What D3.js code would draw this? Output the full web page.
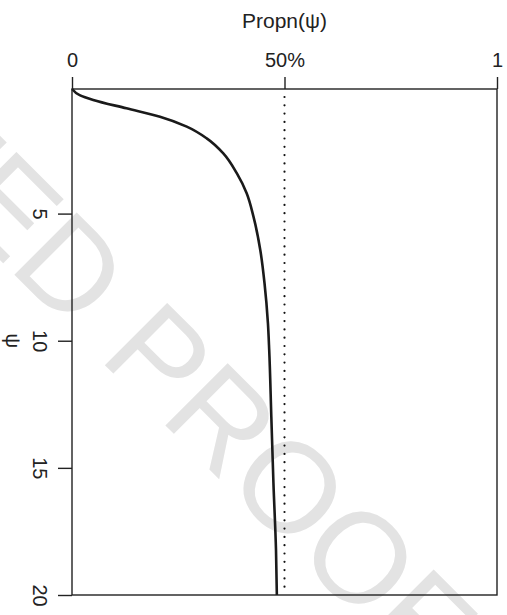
<!DOCTYPE html>
<html>
<head>
<meta charset="utf-8">
<script src="https://cdn.jsdelivr.net/npm/d3@7"></script>
<style>
  html, body { margin: 0; padding: 0; background: #fff; }
  svg { display: block; }
  text { font-family: "Liberation Sans", Arial, Helvetica, sans-serif; }
</style>
</head>
<body>
<svg id="chart" width="507" height="615"></svg>
<script>
// psi values (vertical axis) and the proportion curve at those psi
const psiValues  = [0.1, 0.34, 0.53, 0.86, 1.19, 1.58, 2.04, 2.63, 3.42, 4.20, 5.12, 6.43, 7.74, 9.31, 10.36, 12.99, 15.61, 18.23, 20.0];
const propnValues = [0.0, 0.018, 0.050, 0.128, 0.207, 0.270, 0.317, 0.356, 0.388, 0.411, 0.427, 0.443, 0.453, 0.461, 0.464, 0.469, 0.474, 0.480, 0.482];

// axis ticks
const propnTicks = [0, 0.5, 1];
const propnTickLabels = ["0", "50%", "1"];
const psiTicks = [5, 10, 15, 20];
const referenceLevel = [0.5];

const svg = d3.select("#chart");
const margin = { top: 89, left: 72 };
const plotW = 425, plotH = 506;

// background watermark, laid diagonally across the plot
const wmSize = 128;
const wm = svg.append("text")
  .attr("font-size", wmSize)
  .attr("fill", "#e3e3e3")
  .text("CORRECTED PROOF");
(function placeWatermark() {
  const node = wm.node();
  const idx = 12;                     // first "O" of PROOF
  const alongShift = 34;              // extra slide along the text direction
  const before = node.getSubStringLength(0, idx);
  const oW = node.getSubStringLength(idx, 1);
  const cx = before + oW / 2 - alongShift, cy = -0.36 * wmSize;
  const a = Math.PI / 4, c = Math.cos(a), s = Math.sin(a);
  const tx = 267 - (cx * c - cy * s);
  const ty = 462 - (cx * s + cy * c);
  wm.attr("transform", `translate(${tx},${ty}) rotate(45)`);
})();

const x = d3.scaleLinear().domain([0, 1]).range([margin.left, margin.left + plotW]);
const y = d3.scaleLinear().domain([0.1, 20]).range([margin.top, margin.top + plotH]);

const g = svg.append("g");

// dotted reference line at 50%
g.selectAll("line.ref").data(referenceLevel).enter().append("line")
  .attr("class", "ref")
  .attr("x1", d => x(d)).attr("x2", d => x(d))
  .attr("y1", y(0.1) + 8).attr("y2", y(20))
  .attr("stroke", "#111")
  .attr("stroke-width", 2.2)
  .attr("stroke-linecap", "round")
  .attr("stroke-dasharray", "0,8.3");

// proportion curve
const pts = psiValues.map((p, i) => [propnValues[i], p]);
const line = d3.line()
  .x(d => x(d[0]))
  .y(d => y(d[1]))
  .curve(d3.curveMonotoneY);
g.append("path")
  .datum(pts)
  .attr("d", line)
  .attr("fill", "none")
  .attr("stroke", "#1a1a1a")
  .attr("stroke-width", 2.6)
  .attr("stroke-linejoin", "round");

// frame
g.append("rect")
  .attr("x", x(0)).attr("y", y(0.1))
  .attr("width", x(1) - x(0)).attr("height", y(20) - y(0.1))
  .attr("fill", "none")
  .attr("stroke", "#222")
  .attr("stroke-width", 1.4);

// top axis
const xAxis = d3.axisTop(x)
  .tickValues(propnTicks)
  .tickSize(12)
  .tickPadding(10)
  .tickFormat((d, i) => propnTickLabels[i]);
const gx = svg.append("g").attr("transform", `translate(0,${margin.top})`).call(xAxis);
gx.select(".domain").remove();
gx.selectAll(".tick line").attr("stroke", "#222").attr("stroke-width", 1.4);
gx.selectAll(".tick text")
  .attr("font-size", 20)
  .attr("font-family", "Liberation Sans, Arial, sans-serif")
  .attr("fill", "#222");

// left axis, labels turned a quarter clockwise
const yAxis = d3.axisLeft(y)
  .tickValues(psiTicks)
  .tickSize(14)
  .tickFormat(d3.format("d"));
const gy = svg.append("g").attr("transform", `translate(${margin.left},0)`).call(yAxis);
gy.select(".domain").remove();
gy.selectAll(".tick line").attr("stroke", "#222").attr("stroke-width", 1.4);
gy.selectAll(".tick text")
  .attr("x", null).attr("dy", null)
  .attr("text-anchor", "middle")
  .attr("transform", "translate(-39,0) rotate(90)")
  .attr("font-size", 20)
  .attr("font-family", "Liberation Sans, Arial, sans-serif")
  .attr("fill", "#222");

// axis titles
svg.append("text")
  .attr("x", x(0.5)).attr("y", 28)
  .attr("text-anchor", "middle")
  .attr("font-size", 21)
  .attr("fill", "#222")
  .text("Propn(ψ)");

svg.append("text")
  .attr("transform", `translate(6,${y(10)}) rotate(90)`)
  .attr("text-anchor", "middle")
  .attr("font-size", 21)
  .attr("fill", "#222")
  .text("ψ");
</script>
</body>
</html>
